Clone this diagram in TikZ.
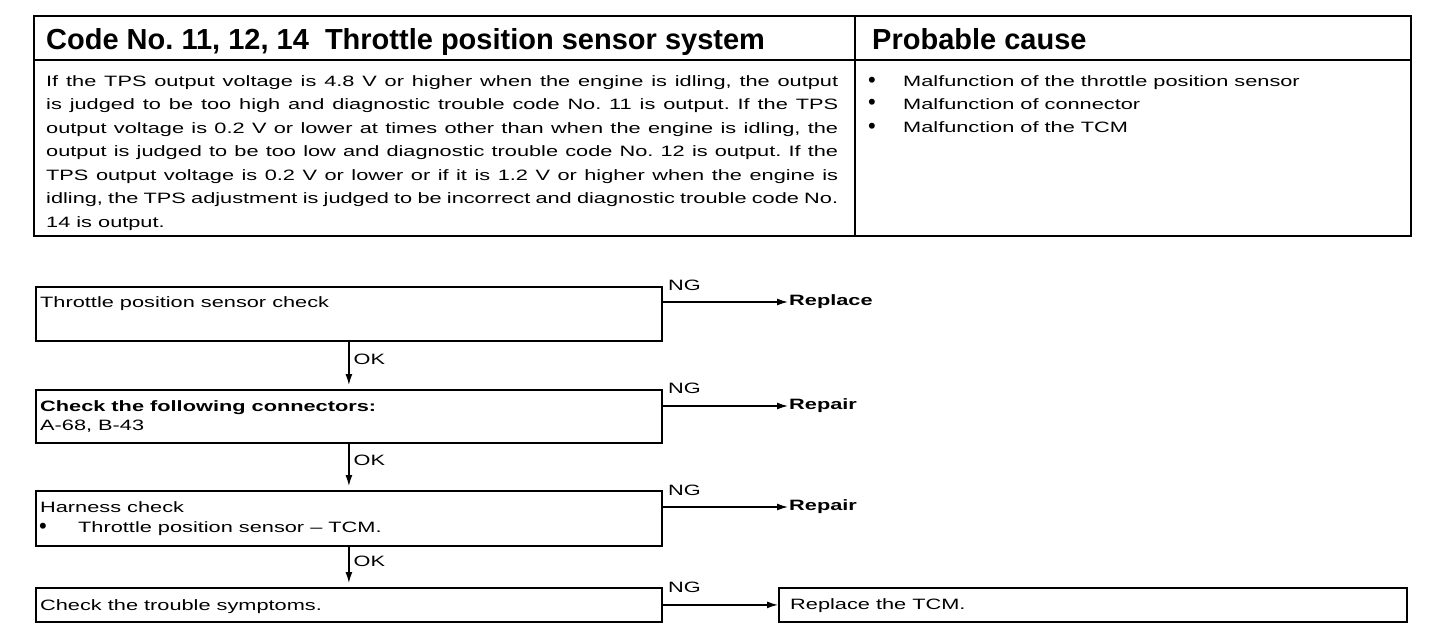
\documentclass[tikz,border=0pt]{standalone}
\usepackage{fontspec}
\setmainfont{Liberation Sans}
\newfontfamily\bodyf{Liberation Sans}[FakeStretch=1.45]
\newfontfamily\titlef{Liberation Sans}
\usetikzlibrary{arrows.meta,calc}
\frenchspacing
\tikzset{
  frame/.style={line width=2pt},
  box/.style={draw, line width=1.8pt, anchor=north west, inner sep=0pt, minimum width=626pt},
  txt/.style={anchor=base west, inner sep=0pt, font={\bodyf\fontsize{15}{18}\selectfont}},
  btxt/.style={anchor=base west, inner sep=0pt, font={\bodyf\bfseries\fontsize{15}{18}\selectfont}},
  ttl/.style={anchor=base west, inner sep=0pt, font={\titlef\bfseries\fontsize{29}{32}\selectfont}},
  arr/.style={line width=1.4pt, -{Latex[length=11pt,width=7pt]}},
  lbl/.style={txt},
}
\newcommand{\jl}[1]{\makebox[792pt][s]{#1}}
\newcommand{\bul}{{\titlef\fontsize{22}{18}\selectfont\textbullet}}
\begin{document}
\begin{tikzpicture}[x=1pt,y=-1pt]
\useasboundingbox (0,0) rectangle (1456,642);
% ---- table ----
\draw[frame] (34,16) rectangle (1411,236);
\draw[frame] (34,60) -- (1411,60);
\draw[frame] (855,16) -- (855,236);
\node[ttl] (title) at (46,49) {Code No. 11, 12, 14\ \ Throttle position sensor system};
\node[ttl] (pc) at (872,49) {Probable cause};
\node[txt] (l1) at (46,86)    {\jl{If the TPS output voltage is 4.8 V or higher when the engine is idling, the output}};
\node[txt] (l2) at (46,109.5) {\jl{is judged to be too high and diagnostic trouble code No. 11 is output. If the TPS}};
\node[txt] (l3) at (46,133)   {\jl{output voltage is 0.2 V or lower at times other than when the engine is idling, the}};
\node[txt] (l4) at (46,156.5) {\jl{output is judged to be too low and diagnostic trouble code No. 12 is output. If the}};
\node[txt] (l5) at (46,180)   {\jl{TPS output voltage is 0.2 V or lower or if it is 1.2 V or higher when the engine is}};
\node[txt] (l6) at (46,203.5) {\jl{idling, the TPS adjustment is judged to be incorrect and diagnostic trouble code No.}};
\node[txt] (l7) at (46,227)   {14 is output.};
\node[txt] (c1b) at (868,87)  {\bul};
\node[txt] (c2b) at (868,110) {\bul};
\node[txt] (c3b) at (868,133) {\bul};
\node[txt] (c1) at (903,86)  {Malfunction of the throttle position sensor};
\node[txt] (c2) at (903,109) {Malfunction of connector};
\node[txt] (c3) at (903,132) {Malfunction of the TCM};
% ---- flow boxes ----
\node[box, minimum height=54pt] (b1) at (35,286) {};
\node[box, minimum height=53pt] (b2) at (35,389) {};
\node[box, minimum height=55pt] (b3) at (35,490) {};
\node[box, minimum height=34pt] (b4) at (35,587) {};
\node[box, minimum height=34pt, minimum width=628pt] (b5) at (778,587) {};
\node[txt] (t1) at (40,307) {Throttle position sensor check};
\node[btxt] (t2a) at (40,411) {Check the following connectors:};
\node[txt] (t2b) at (40,430) {A-68, B-43};
\node[txt] (t3a) at (40,512) {Harness check};
\node[txt] (t3bb) at (39,533) {\bul};
\node[txt] (t3b) at (78,532) {Throttle position sensor – TCM.};
\node[txt] (t4) at (40,610) {Check the trouble symptoms.};
\node[txt] (t5) at (790,609) {Replace the TCM.};
% ---- results ----
\node[btxt, anchor=west, inner sep=1pt] (r1) at (788,302) {Replace};
\node[btxt, anchor=west, inner sep=1pt] (r2) at (788,406) {Repair};
\node[btxt, anchor=west, inner sep=1pt] (r3) at (788,507) {Repair};
% ---- NG arrows ----
\draw[arr] ($(b1.north east)+(0,16)$) -- (r1.west);
\draw[arr] ($(b2.north east)+(0,17)$) -- (r2.west);
\draw[arr] ($(b3.north east)+(0,17)$) -- (r3.west);
\draw[arr] (b4.east) -- (b5.west);
\node[lbl] (ng1) at (668,290) {NG};
\node[lbl] (ng2) at (668,393) {NG};
\node[lbl] (ng3) at (668,495) {NG};
\node[lbl] (ng4) at (668,592) {NG};
% ---- OK arrows ----
\draw[arr] (b1.south) -- ([yshift=4pt]b2.north) node[pos=0.4, txt, anchor=west, xshift=4pt] (ok1) {OK};
\draw[arr] (b2.south) -- ([yshift=4pt]b3.north) node[pos=0.4, txt, anchor=west, xshift=4pt] (ok2) {OK};
\draw[arr] (b3.south) -- ([yshift=4pt]b4.north) node[pos=0.4, txt, anchor=west, xshift=4pt] (ok3) {OK};
\end{tikzpicture}
\end{document}
